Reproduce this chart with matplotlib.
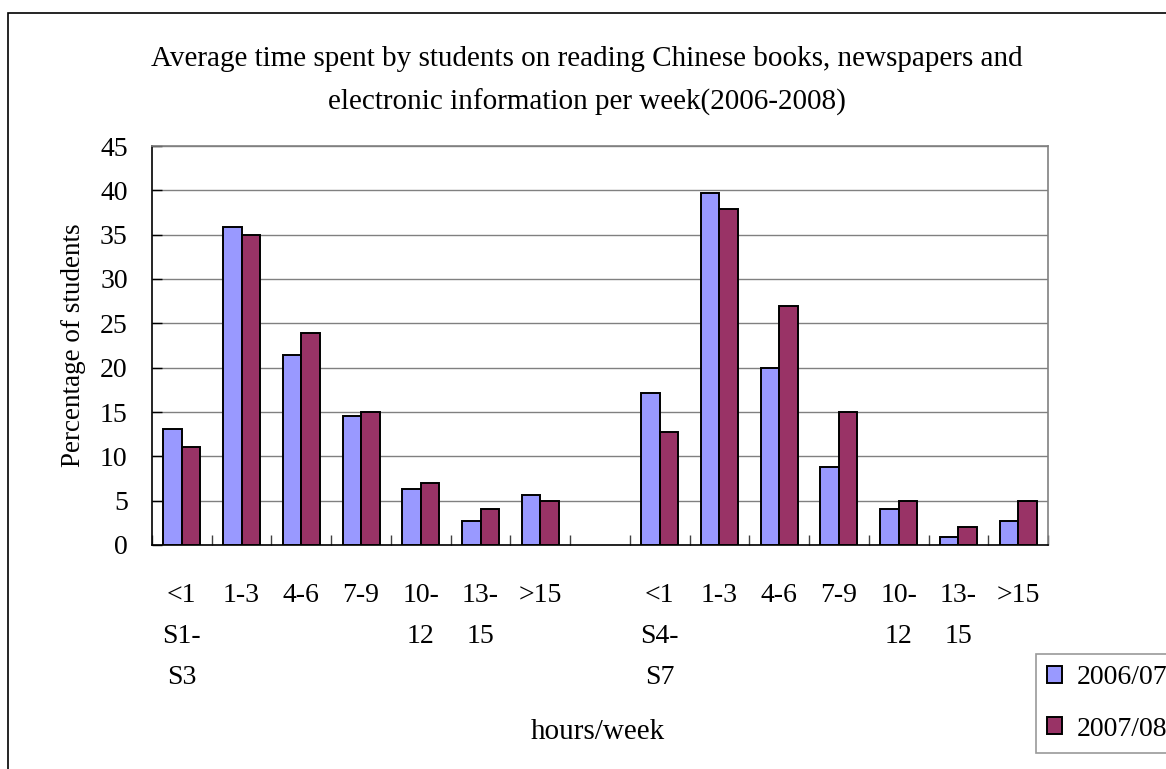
import matplotlib
matplotlib.use("Agg")
import matplotlib.pyplot as plt
import matplotlib.patches as mpatches
import numpy as np

plt.rcParams["font.family"] = ["Liberation Serif", "DejaVu Serif"]

# hours-per-week bands and school levels
hours = ["<1", "1-3", "4-6", "7-9", "10-12", "13-15", ">15"]
levels = ["S1-S3", "S4-S7"]

# percentage of students, per level and school year
s1_s3_2006 = [13.1, 35.9, 21.4, 14.6, 6.3, 2.7, 5.6]
s1_s3_2007 = [11.1, 35.0, 23.9, 15.0, 7.0, 4.1, 5.0]
s4_s7_2006 = [17.1, 39.7, 20.0, 8.8, 4.1, 0.9, 2.7]
s4_s7_2007 = [12.8, 37.9, 26.9, 15.0, 5.0, 2.0, 5.0]

series_names = ["2006/07", "2007/08"]
y_ticks = [0, 5, 10, 15, 20, 25, 30, 35, 40, 45]

W, H = 1166, 769
fig = plt.figure(figsize=(W / 100, H / 100), dpi=100)

# outer chart-area border (left and top edges visible)
fig.patches.append(mpatches.Rectangle((8 / W, -0.1), 1.2, 1 - 13 / H + 0.1,
                                      transform=fig.transFigure, fill=False,
                                      edgecolor="black", linewidth=1.2))

ax = fig.add_axes([152 / W, 1 - 545 / H, 896 / W, 399 / H])

n = len(hours)
# slot positions: one empty slot between the two level groups
pos1 = np.arange(n)
pos2 = np.arange(n) + n + 1
bw = 0.31
blue, maroon = "#9999FF", "#993366"
bar_kw = dict(width=bw, edgecolor="black", linewidth=1.4, zorder=3)

ax.bar(pos1 - bw / 2, s1_s3_2006, color=blue, **bar_kw)
ax.bar(pos1 + bw / 2, s1_s3_2007, color=maroon, **bar_kw)
ax.bar(pos2 - bw / 2, s4_s7_2006, color=blue, **bar_kw)
ax.bar(pos2 + bw / 2, s4_s7_2007, color=maroon, **bar_kw)

total = 2 * n + 1
ax.set_xlim(-0.5, total - 0.5)
ax.set_ylim(0, 45)
ax.set_yticks(y_ticks)
ax.yaxis.grid(True, color="#808080", linewidth=1.0, zorder=0)
ax.set_axisbelow(True)

# category labels, wrapped as in narrow columns
def wrap(h):
    return h.replace("-", "-\n") if len(h) > 4 else h

labels = []
for i, h in enumerate(hours):
    labels.append(wrap(h) + ("\n" + levels[0].replace("-", "-\n") if i == 0 else ""))
labels.append("")
for i, h in enumerate(hours):
    labels.append(wrap(h) + ("\n" + levels[1].replace("-", "-\n") if i == 0 else ""))

ax.set_xticks(np.arange(total))
ax.set_xticklabels(labels, fontsize=20, linespacing=1.84, va="top")
ax.set_xticks(np.arange(total + 1) - 0.5, minor=True)
ax.tick_params(axis="x", which="major", length=0, pad=27.5)
ax.tick_params(axis="x", which="minor", direction="in", length=7, width=1.0,
               color="#404040")
ax.tick_params(axis="y", direction="in", length=7, width=1.0, labelsize=20,
               pad=17.5, color="black")

for s in ("top", "right"):
    ax.spines[s].set_color("#808080")
    ax.spines[s].set_linewidth(1.2)
for s in ("left", "bottom"):
    ax.spines[s].set_color("black")
    ax.spines[s].set_linewidth(1.2)

ax.set_ylabel("Percentage of students", fontsize=19.5)
ax.yaxis.label.set_va("center")
ax.yaxis.set_label_coords((73 - 152) / 896, 0.5)

fig.text(598 / W, 1 - 732 / H, "hours/week", fontsize=21, ha="center", va="center")
fig.text(587 / W, 1 - 81 / H,
         "Average time spent by students on reading Chinese books, newspapers and\n"
         "electronic information per week(2006-2008)",
         fontsize=21, ha="center", va="center", linespacing=1.76)

handles = [mpatches.Patch(facecolor=blue, edgecolor="black", linewidth=1.4),
           mpatches.Patch(facecolor=maroon, edgecolor="black", linewidth=1.4)]
leg = fig.legend(handles, series_names, loc="upper left",
                 bbox_to_anchor=(1036 / W, 1 - 654 / H), fontsize=20,
                 frameon=True, fancybox=False, edgecolor="#808080",
                 handlelength=0.55, handleheight=0.55, handletextpad=0.5,
                 borderpad=0.4, labelspacing=0.95, borderaxespad=0)
leg.get_frame().set_linewidth(1.2)

fig.savefig("out.png", dpi=100)
